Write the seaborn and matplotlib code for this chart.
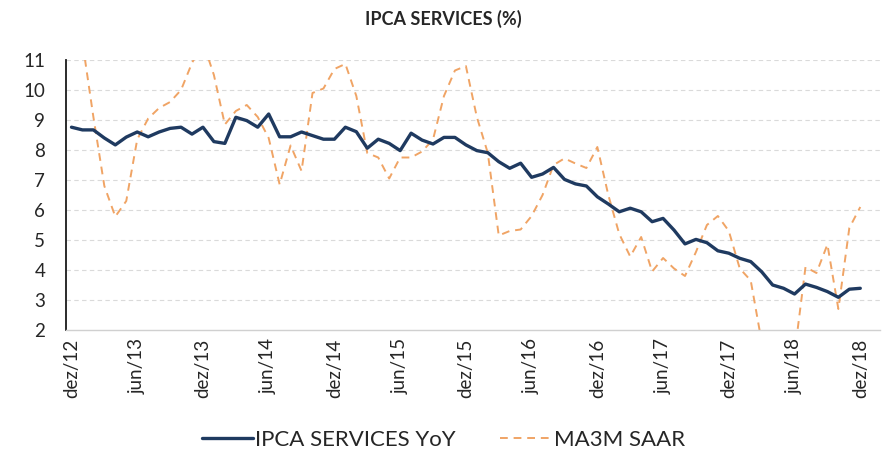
import matplotlib.pyplot as plt
import seaborn as sns
import pandas as pd
import numpy as np

# monthly data, dez/12 .. dez/18
yoy = [8.76, 8.67, 8.67, 8.40, 8.17, 8.43, 8.60, 8.44, 8.60, 8.72,
       8.76, 8.53, 8.76, 8.28, 8.22, 9.09, 8.98, 8.76, 9.20, 8.44,
       8.44, 8.60, 8.48, 8.36, 8.36, 8.76, 8.61, 8.06, 8.36, 8.22,
       7.98, 8.56, 8.33, 8.20, 8.42, 8.42, 8.17, 7.98, 7.91, 7.61,
       7.39, 7.56, 7.09, 7.20, 7.42, 7.02, 6.87, 6.80, 6.44, 6.20,
       5.94, 6.06, 5.94, 5.61, 5.72, 5.33, 4.87, 5.02, 4.91, 4.64,
       4.56, 4.39, 4.28, 3.94, 3.50, 3.39, 3.20, 3.53, 3.42, 3.28,
       3.09, 3.36, 3.39]
saar = [12.3, 11.6, 9.10, 6.80, 5.78, 6.30, 8.35, 9.05, 9.40, 9.60,
        10.0, 10.9, 11.6, 10.5, 8.85, 9.30, 9.50, 9.10, 8.40, 6.85,
        8.15, 7.30, 9.90, 10.05, 10.7, 10.87, 9.80, 7.90, 7.75, 7.05,
        7.75, 7.75, 7.95, 8.35, 9.80, 10.65, 10.8, 9.10, 7.90, 5.15,
        5.30, 5.35, 5.80, 6.50, 7.50, 7.72, 7.55, 7.40, 8.10, 6.50,
        5.20, 4.45, 5.10, 3.95, 4.40, 4.05, 3.80, 4.60, 5.50, 5.80,
        5.30, 4.05, 3.65, 1.60, 1.30, 1.20, 1.20, 4.10, 3.90, 4.85,
        2.70, 5.40, 6.10]
tick_labels = ["dez/12", "jun/13", "dez/13", "jun/14", "dez/14", "jun/15", "dez/15",
               "jun/16", "dez/16", "jun/17", "dez/17", "jun/18", "dez/18"]

df = pd.DataFrame({"m": np.arange(len(yoy)), "yoy": yoy, "saar": saar})

sns.set_style("white")
plt.rcParams['font.family'] = ['Lato', 'DejaVu Sans']

fig = plt.figure(figsize=(8.87, 4.62), dpi=100)
ax = fig.add_axes([66/887, 1-330/462, 814/887, 270/462])

for v in range(3, 12):
    ax.axhline(v, color='#DADADA', lw=0.8, ls=(0, (4, 3)), zorder=0)

sns.lineplot(data=df, x="m", y="yoy", ax=ax, color='#1F3A60', lw=2.4,
             label="IPCA SERVICES YoY", zorder=3)
sns.lineplot(data=df, x="m", y="saar", ax=ax, color='#F0A465', lw=1.4,
             ls=(0, (4, 3)), label="MA3M SAAR", zorder=2)

ax.set_ylim(2, 11)
ax.set_xlim(-0.5, 73.8)
ax.set_yticks(range(2, 12))
ax.set_xticks(np.arange(0, 73, 6))
ax.set_xticklabels(tick_labels, rotation=90)
ax.set_xticks(np.arange(-0.5, 73, 6), minor=True)
ax.tick_params(axis='x', which='major', length=0, labelsize=13.5, pad=6, colors='#262626')
ax.tick_params(axis='x', which='minor', length=5, color='#BFBFBF', width=0.8)
ax.tick_params(axis='y', length=5, direction='in', labelsize=13.5, color='#262626',
               colors='#262626', pad=15, width=1)
ax.set_xlabel("")
ax.set_ylabel("")

for s in ['top', 'right']:
    ax.spines[s].set_visible(False)
ax.spines['left'].set_color('#1A1A1A')
ax.spines['left'].set_linewidth(1.3)
ax.spines['bottom'].set_color('#D0D0D0')
ax.spines['bottom'].set_linewidth(1)

fig.text(0.5, 0.958, "IPCA SERVICES (%)", ha='center', va='center',
         fontsize=13, fontweight='bold', color='#262626')

leg = ax.legend(loc='center', bbox_to_anchor=(0.5, 1-440/462), bbox_transform=fig.transFigure,
                ncol=2, frameon=False, fontsize=16, handlelength=2.3,
                columnspacing=2.0, handletextpad=0.1)
for t in leg.get_texts():
    t.set_color('#262626')

fig.savefig("out.png", dpi=100)
